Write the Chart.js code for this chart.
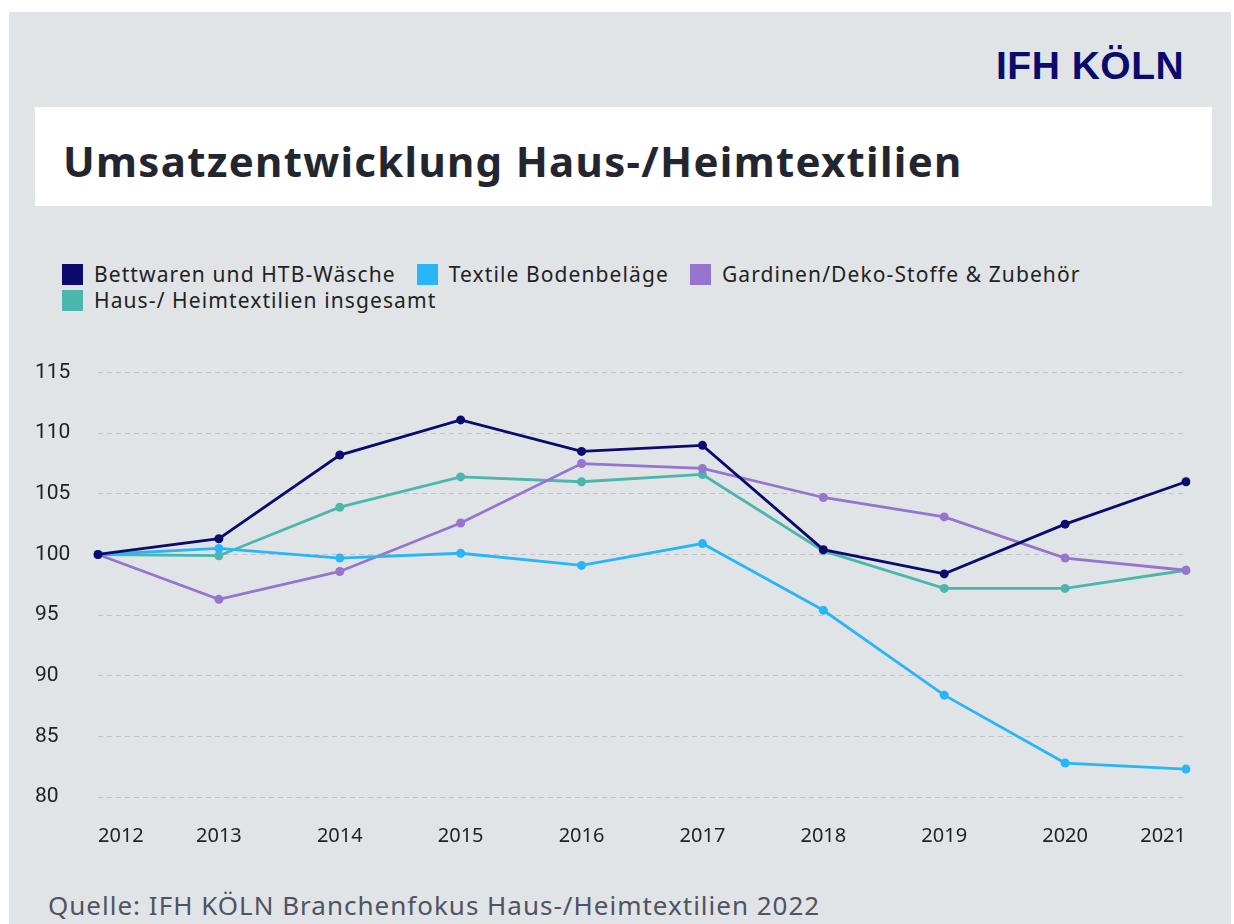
<!DOCTYPE html>
<html>
<head>
    <title>Umsatzentwicklung Haus-/Heimtextilien</title>
    <script src="https://cdn.jsdelivr.net/npm/chart.js"></script>
    <style>
        body {
            margin: 0;
            background-color: #ffffff;
            width: 1234px;
            height: 924px;
            overflow: hidden;
        }
        .panel {
            position: absolute;
            left: 9px;
            top: 12px;
            width: 1222px;
            height: 912px;
            background-color: #e1e4e7;
        }
        .logo {
            position: absolute;
            left: 996px;
            top: 44px;
            font-family: "Liberation Sans", Arial, sans-serif;
            font-weight: bold;
            font-size: 39px;
            color: #0b0a6d;
            letter-spacing: 0.5px;
        }
        .title-box {
            position: absolute;
            left: 35px;
            top: 107px;
            width: 1177px;
            height: 99px;
            background-color: #ffffff;
        }
        .title-box h1 {
            margin: 0;
            position: absolute;
            left: 28px;
            top: 25px;
            font-family: "Noto Sans", sans-serif;
            font-weight: bold;
            font-size: 42px;
            letter-spacing: 1.3px;
            color: #23262f;
        }
        #legend {
            position: absolute;
            left: 62px;
            top: 261px;
            width: 1150px;
            font-family: "Noto Sans", sans-serif;
            font-size: 21px;
            line-height: 26px;
            letter-spacing: 1.1px;
            color: #222;
        }
        .legend-item {
            display: inline-flex;
            align-items: center;
            height: 26px;
            margin-right: 21px;
            white-space: nowrap;
            vertical-align: top;
        }
        .legend-box {
            width: 21px;
            height: 21px;
            margin-right: 11px;
        }
        .chart-wrap {
            position: absolute;
            left: 35px;
            top: 350px;
            width: 1178px;
            height: 507px;
        }
        .source {
            position: absolute;
            left: 48px;
            top: 887px;
            font-family: "Noto Sans", sans-serif;
            font-size: 26px;
            letter-spacing: 1px;
            color: #4f5362;
        }
    </style>
</head>
<body>
    <div class="panel"></div>
    <div class="logo">IFH KÖLN</div>
    <div class="title-box"><h1>Umsatzentwicklung Haus-/Heimtextilien</h1></div>
    <div id="legend"></div>
    <div class="chart-wrap"><canvas id="lineChart"></canvas></div>
    <div class="source">Quelle: IFH KÖLN Branchenfokus Haus-/Heimtextilien 2022</div>

    <script>
        // years on the x axis
        const years = ['2012', '2013', '2014', '2015', '2016', '2017', '2018', '2019', '2020', '2021'];

        // index values, 2012 = 100
        const bettwaren = [100, 101.3, 108.2, 111.1, 108.5, 109.0, 100.4, 98.4, 102.5, 106.0];
        const bodenbelaege = [100, 100.5, 99.7, 100.1, 99.1, 100.9, 95.4, 88.4, 82.8, 82.3];
        const gardinen = [100, 96.3, 98.6, 102.6, 107.5, 107.1, 104.7, 103.1, 99.7, 98.7];
        const insgesamt = [100, 99.9, 103.9, 106.4, 106.0, 106.6, 100.3, 97.2, 97.2, 98.7];

        const seriesNames = ['Bettwaren und HTB-Wäsche', 'Textile Bodenbeläge', 'Gardinen/Deko-Stoffe & Zubehör', 'Haus-/ Heimtextilien insgesamt'];
        const seriesColors = ['#0b0a6d', '#29b6f6', '#9575cd', '#4db6ac'];
        const seriesData = [bettwaren, bodenbelaege, gardinen, insgesamt];

        // y axis range
        const yMin = 80;
        const yMax = 115;
        const yStep = 5;

        // legend as html so the rows can sit close together
        const legendEl = document.getElementById('legend');
        seriesNames.forEach((name, i) => {
            const item = document.createElement('span');
            item.className = 'legend-item';
            item.innerHTML = '<span class="legend-box" style="background:' + seriesColors[i] + '"></span>' + name;
            legendEl.appendChild(item);
        });

        const datasets = seriesNames.map((name, i) => ({
            label: name,
            data: seriesData[i],
            borderColor: seriesColors[i],
            backgroundColor: seriesColors[i],
            borderWidth: 2.8,
            pointRadius: 4.5,
            pointBorderWidth: 0,
            pointBackgroundColor: seriesColors[i],
            tension: 0
        }));

        const ctx = document.getElementById('lineChart').getContext('2d');
        const chart = new Chart(ctx, {
            type: 'line',
            data: {
                labels: years,
                datasets: datasets
            },
            options: {
                responsive: true,
                maintainAspectRatio: false,
                animation: false,
                layout: {
                    padding: { top: 21, right: 10, bottom: 0, left: 0 }
                },
                plugins: {
                    legend: { display: false },
                    tooltip: { enabled: false }
                },
                scales: {
                    x: {
                        grid: { display: false, drawTicks: false },
                        border: { display: false },
                        ticks: {
                            align: 'inner',
                            padding: 27,
                            color: '#222',
                            font: { family: 'Noto Sans', size: 20 }
                        },
                        afterFit: (axis) => { axis.height = 60; }
                    },
                    y: {
                        min: yMin,
                        max: yMax,
                        grid: {
                            color: '#bfc2c6',
                            lineWidth: 1,
                            drawTicks: false
                        },
                        border: { display: false, dash: [5, 4] },
                        ticks: {
                            stepSize: yStep,
                            crossAlign: 'far',
                            padding: 10,
                            color: '#222',
                            font: { family: 'Roboto', size: 21 }
                        },
                        afterFit: (axis) => { axis.width = 63; }
                    }
                }
            }
        });
    </script>
</body>
</html>
